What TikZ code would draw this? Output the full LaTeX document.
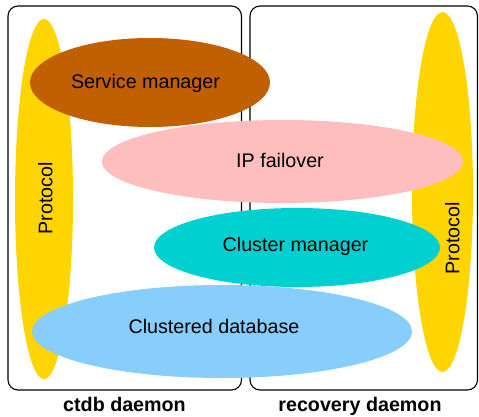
\documentclass[tikz,border=0pt]{standalone}
\usepackage{fontspec}
\setmainfont{Liberation Sans}
\usetikzlibrary{shapes.geometric}
\definecolor{protoyellow}{HTML}{FFD500}
\definecolor{svcbrown}{HTML}{C06000}
\definecolor{ippink}{HTML}{FFBEBE}
\definecolor{cmcyan}{HTML}{00D0D0}
\definecolor{dbblue}{HTML}{88CEFC}
\tikzset{
  daemonbox/.style={draw=black, line width=1.1pt, rounded corners=10pt},
  blob/.style={ellipse, draw=none, inner sep=0pt},
  lbl/.style={font=\fontsize{19.7}{22}\selectfont, anchor=base, inner sep=0pt},
  caption/.style={font=\fontsize{19.7}{22}\selectfont\bfseries, anchor=base, inner sep=0pt},
}
\begin{document}
\begin{tikzpicture}[x=1pt, y=-1pt]
  \useasboundingbox (0,0) rectangle (479,416);
  % daemon frames
  \draw[daemonbox] (8,6) rectangle (241.5,390);
  \draw[daemonbox] (250,6) rectangle (477.5,390);
  % protocol layers
  \node[blob, fill=protoyellow, minimum width=58pt, minimum height=360pt] (protoL) at (44,199) {};
  \node[blob, fill=protoyellow, minimum width=61pt, minimum height=360pt] (protoR) at (442.5,192) {};
  % components
  \node[blob, fill=svcbrown, minimum width=240pt, minimum height=89pt] (svc) at (150,82.5) {};
  \node[blob, fill=ippink, minimum width=361pt, minimum height=83pt] (ipf) at (282.5,161.5) {};
  \node[blob, fill=cmcyan, minimum width=286pt, minimum height=79pt] (clm) at (297,247.5) {};
  \node[blob, fill=dbblue, minimum width=380pt, minimum height=93pt] (cdb) at (222,331.5) {};
  % labels
  \node[lbl] (svcT) at (145.5,88.3) {Service manager};
  \node[lbl] (ipfT) at (280,167.7) {IP failover};
  \node[lbl] (clmT) at (295.5,251.7) {Cluster manager};
  \node[lbl] (cdbT) at (214,333.3) {Clustered database};
  \node[lbl, rotate=90] (protoLT) at (52.3,198) {Protocol};
  \node[lbl, rotate=90] (protoRT) at (459.3,238) {Protocol};
  \node[caption] (ctdbT) at (124.5,411) {ctdb daemon};
  \node[caption] (recT) at (360,411) {recovery daemon};
\end{tikzpicture}
\end{document}
